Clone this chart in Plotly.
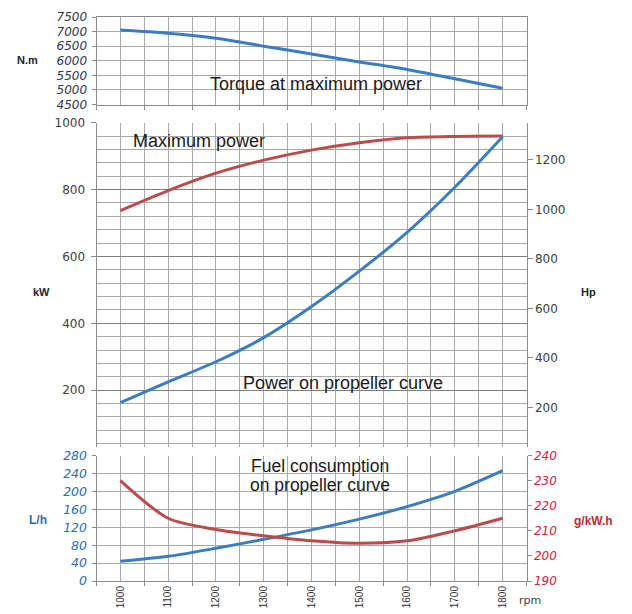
import plotly.graph_objects as go

# ---------------- data ----------------
rpm = [1000, 1100, 1200, 1300, 1400, 1500, 1600, 1700, 1800]
torque_nm = [7050, 6940, 6770, 6500, 6230, 5960, 5700, 5380, 5060]
max_power_kw = [737, 797, 849, 888, 918, 940, 955, 959, 960]
prop_power_kw = [163, 225, 285, 357, 450, 556, 672, 807, 958]
fuel_lh = [44, 55, 73, 93, 114, 138, 166, 200, 246]
bsfc_gkwh = [230, 215, 210.5, 208, 206, 205, 206, 210, 215]
boundaries = [950, 1050, 1150, 1250, 1350, 1450, 1550, 1650, 1750, 1850]
HP_PER_KW = 1.35

# ---------------- styling ----------------
W, H = 632, 614
OFF = 8  # page body margin
BLUE = "#3A7CC6"
RED = "#BE4B4B"
GRID = "#A8A8A8"
MAJOR = "#7F7F7F"
AXIS = "#8C8C8C"
TXT = "#404040"


def fx(p):
    return (p - OFF) / W


def fy(p):
    return 1 - (p - OFF) / H


XL, XR = 96.5, 526.5
x_dom = [fx(XL), fx(XR)]
X_RANGE = [950, 1850]

line_kw = dict(shape="spline", smoothing=0.8, width=3)

fig = go.Figure()
fig.add_trace(go.Scatter(x=rpm, y=torque_nm, xaxis="x", yaxis="y", mode="lines",
                         line=dict(color=BLUE, **line_kw), hoverinfo="skip"))
fig.add_trace(go.Scatter(x=rpm, y=max_power_kw, xaxis="x2", yaxis="y2", mode="lines",
                         line=dict(color=RED, **line_kw), hoverinfo="skip"))
fig.add_trace(go.Scatter(x=rpm, y=prop_power_kw, xaxis="x2", yaxis="y2", mode="lines",
                         line=dict(color=BLUE, **line_kw), hoverinfo="skip"))
fig.add_trace(go.Scatter(x=rpm, y=[p * HP_PER_KW for p in max_power_kw], xaxis="x2", yaxis="y3",
                         mode="lines", line=dict(width=0), opacity=0, hoverinfo="skip"))
fig.add_trace(go.Scatter(x=rpm, y=fuel_lh, xaxis="x3", yaxis="y4", mode="lines",
                         line=dict(color=BLUE, **line_kw), hoverinfo="skip"))
fig.add_trace(go.Scatter(x=rpm, y=bsfc_gkwh, xaxis="x3", yaxis="y5", mode="lines",
                         line=dict(color=RED, **line_kw), hoverinfo="skip"))


def xaxis(anchor, show_line, labels):
    d = dict(domain=x_dom, anchor=anchor, range=X_RANGE, tickmode="array", tickvals=rpm,
             ticktext=[str(r) for r in rpm], showticklabels=labels, ticks="",
             showgrid=True, gridcolor=GRID, gridwidth=1, zeroline=False, automargin=False,
             showline=show_line, linecolor=AXIS, linewidth=1,
             minor=dict(tickmode="array", tickvals=boundaries, ticks="outside" if show_line else "",
                        ticklen=4, tickcolor=AXIS, showgrid=True, gridcolor=GRID, gridwidth=1))
    if labels:
        d.update(tickangle=-90, ticklabeloverflow="allow",
                 tickfont=dict(family="Liberation Sans", size=10, color="#333333"))
    return d


def yaxis(**kw):
    base = dict(automargin=False, ticklabeloverflow="allow", zeroline=False,
                showline=True, linecolor=AXIS, ticks="outside", tickcolor=AXIS, tickmode="array")
    base.update(kw)
    return base


top = (17, 104.5)
mid = (122.7, 447)
bot = (455.5, 581)

fig.update_layout(
    width=W, height=H,
    margin=dict(l=0, r=0, t=0, b=0, pad=0),
    paper_bgcolor="white", plot_bgcolor="white",
    showlegend=False,
    xaxis=dict(**xaxis("y", True, False), mirror=True),
    xaxis2=xaxis("y2", False, False),
    xaxis3=xaxis("y4", True, True),
    yaxis=yaxis(domain=[fy(top[1]), fy(top[0])], anchor="x", range=[4500, 7500],
                tickvals=list(range(4500, 7501, 500)), ticklen=4, mirror=True,
                showgrid=True, gridcolor=GRID, ticklabelstandoff=2,
                tickfont=dict(family="DejaVu Sans", size=12, color="#2E3A52", style="italic")),
    yaxis2=yaxis(domain=[fy(mid[1]), fy(mid[0])], anchor="x2", range=[30, 1000],
                 tickvals=[200, 400, 600, 800, 1000], ticklen=5,
                 showgrid=True, gridcolor=MAJOR, ticklabelstandoff=3,
                 minor=dict(dtick=40, tick0=0, showgrid=True, gridcolor=GRID, ticks=""),
                 tickfont=dict(family="DejaVu Sans", size=12, color=TXT)),
    yaxis3=yaxis(overlaying="y2", side="right", anchor="x2",
                 range=[30 * HP_PER_KW, 1000 * HP_PER_KW],
                 tickvals=[200, 400, 600, 800, 1000, 1200], ticklen=5, showgrid=False,
                 tickfont=dict(family="DejaVu Sans", size=12, color=TXT)),
    yaxis4=yaxis(domain=[fy(bot[1]), fy(bot[0])], anchor="x3", range=[0, 280],
                 tickvals=list(range(0, 281, 40)), ticklen=4,
                 showgrid=True, gridcolor=GRID, ticklabelstandoff=2,
                 tickfont=dict(family="DejaVu Sans", size=12.5, color="#2E6EB5", style="italic")),
    yaxis5=yaxis(overlaying="y4", side="right", anchor="x3", range=[190, 240],
                 tickvals=list(range(190, 241, 10)), ticklen=4, showgrid=False,
                 tickfont=dict(family="DejaVu Sans", size=12, color="#D62240", style="italic")),
)


def note(text, x, y, size=18, color="#1A1A1A", bold=False, family="Liberation Sans"):
    fig.add_annotation(text=f"<b>{text}</b>" if bold else text, x=fx(x), y=fy(y),
                       xref="paper", yref="paper", showarrow=False,
                       xanchor="center", yanchor="middle",
                       font=dict(family=family, size=size, color=color))


note("Torque at maximum power", 316, 84)
note("Maximum power", 199, 141)
note("Power on propeller curve", 343, 383)
note("Fuel consumption", 320, 465.5, size=17.5)
note("on propeller curve", 320, 484.5, size=17.5)

note("N.m", 27, 60, size=11, color="#262626", bold=True)
note("kW", 41, 292, size=11, color="#262626", bold=True)
note("Hp", 588, 292, size=11, color="#262626", bold=True)
note("L/h", 38, 520, size=12, color="#2E6EB5", bold=True)
note("g/kW.h", 593, 521, size=12, color="#C0283C", bold=True)
note("rpm", 530, 600, size=11, color=TXT, family="DejaVu Sans")

fig.write_html("out.html")
